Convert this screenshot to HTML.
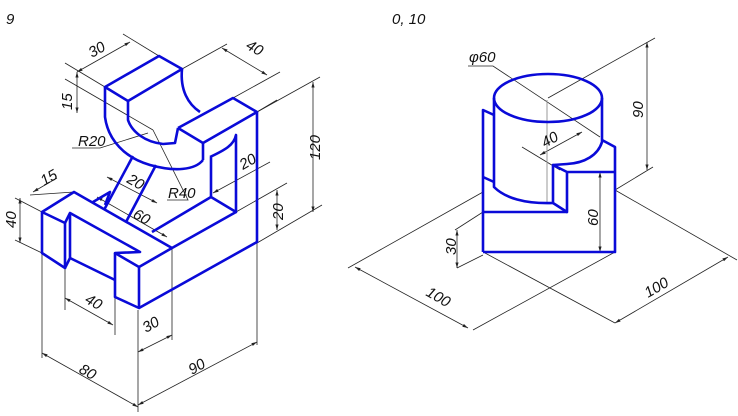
<!DOCTYPE html>
<html><head><style>body{margin:0;background:#fff}svg{display:block}text{font-family:"Liberation Sans",sans-serif;font-style:italic;font-size:15px;fill:#111}</style></head><body>
<svg width="738" height="416" viewBox="0 0 738 416">
<defs><marker id="a" markerWidth="8" markerHeight="6" refX="7" refY="3" orient="auto-start-reverse"><path d="M0,1 L7,3 L0,5z" fill="#222"/></marker></defs>
<text x="6" y="24" font-size="18">9</text>
<text x="392" y="24" font-size="18">0, 10</text>
<g stroke="#222" stroke-width="0.8" fill="none">
<line x1="65" y1="63" x2="105" y2="87"/><line x1="123" y1="34" x2="159" y2="56"/>
<line x1="77" y1="72" x2="130" y2="42" marker-start="url(#a)" marker-end="url(#a)"/>
<line x1="182" y1="69" x2="227" y2="44"/><line x1="257" y1="112" x2="277" y2="100"/><line x1="233" y1="98" x2="280" y2="72"/>
<line x1="222" y1="48" x2="267" y2="75" marker-start="url(#a)" marker-end="url(#a)"/>
<line x1="65" y1="79" x2="153" y2="130"/><line x1="77" y1="72" x2="77" y2="113" marker-start="url(#a)" marker-end="url(#a)"/>
<polyline points="72,148 100,148 148,133"/>
<polyline points="153,130 188,200 167,200"/>
<line x1="213" y1="193" x2="270" y2="162" marker-start="url(#a)"/>
<line x1="257" y1="112" x2="320" y2="77"/><line x1="257" y1="243" x2="322" y2="205"/>
<line x1="313" y1="82" x2="313" y2="212" marker-start="url(#a)" marker-end="url(#a)"/>
<line x1="236" y1="212" x2="287" y2="183"/><line x1="277" y1="190" x2="277" y2="230" marker-start="url(#a)" marker-end="url(#a)"/>
<line x1="33" y1="192" x2="57" y2="178" marker-start="url(#a)"/><line x1="30" y1="195" x2="74" y2="192"/>
<line x1="15" y1="198" x2="42" y2="212"/><line x1="15" y1="240" x2="42" y2="253"/>
<line x1="20" y1="198" x2="20" y2="243" marker-start="url(#a)" marker-end="url(#a)"/>
<line x1="107" y1="177" x2="157" y2="203" marker-start="url(#a)" marker-end="url(#a)"/>
<line x1="97" y1="197" x2="167" y2="237" marker-start="url(#a)" marker-end="url(#a)"/>
<line x1="65" y1="268" x2="65" y2="310"/><line x1="115" y1="297" x2="115" y2="335"/>
<line x1="65" y1="298" x2="113" y2="325" marker-start="url(#a)" marker-end="url(#a)"/>
<line x1="172" y1="248" x2="172" y2="340"/><line x1="138" y1="352" x2="172" y2="335" marker-start="url(#a)" marker-end="url(#a)"/>
<line x1="42" y1="253" x2="42" y2="358"/><line x1="138" y1="310" x2="138" y2="412"/><line x1="257" y1="242" x2="257" y2="345"/>
<line x1="42" y1="353" x2="138" y2="407" marker-start="url(#a)" marker-end="url(#a)"/>
<line x1="138" y1="405" x2="257" y2="342" marker-start="url(#a)" marker-end="url(#a)"/>
<polyline points="468,66 493,66 600,137"/>
<line x1="548" y1="98" x2="655" y2="38"/><line x1="615" y1="190" x2="653" y2="167"/>
<line x1="647" y1="42" x2="647" y2="170" marker-start="url(#a)" marker-end="url(#a)"/>
<line x1="522" y1="147" x2="560" y2="170"/>
<line x1="540" y1="155" x2="582" y2="132" marker-start="url(#a)" marker-end="url(#a)"/>
<line x1="600" y1="172" x2="600" y2="252" marker-start="url(#a)" marker-end="url(#a)"/>
<line x1="483" y1="212" x2="455" y2="230"/><line x1="483" y1="255" x2="457" y2="268"/>
<line x1="457" y1="230" x2="457" y2="268" marker-start="url(#a)" marker-end="url(#a)"/>
<line x1="483" y1="192" x2="348" y2="268"/><line x1="615" y1="252" x2="473" y2="330"/>
<line x1="355" y1="267" x2="468" y2="328" marker-start="url(#a)" marker-end="url(#a)"/>
<line x1="485" y1="253" x2="615" y2="323"/><line x1="615" y1="190" x2="737" y2="260"/>
<line x1="615" y1="323" x2="728" y2="257" marker-start="url(#a)" marker-end="url(#a)"/>
</g>
<line x1="547" y1="100" x2="547" y2="203" stroke="#999" stroke-width="1"/>
<g stroke="#0a0ad8" stroke-width="2.6" fill="none" stroke-linejoin="round">
<polygon points="105,87 159,56 182,69 128,101"/>
<path d="M105,87 L105,117 C108,140 125,158 150,165 C175,172 195,170 203,160"/>
<path d="M128,101 L128,120 C132,132 145,142 163,144 L175,143 L178,128"/>
<path d="M182,69 C180,90 188,104 200,112"/>
<polyline points="178,128 233,98 257,112 203,143 178,128"/>
<line x1="203" y1="143" x2="203" y2="160"/><line x1="257" y1="112" x2="257" y2="243"/>
<path d="M210,157 C225,150 234,145 236,135 L236,212 L211,197 L211,157"/>
<line x1="211" y1="197" x2="152" y2="232"/>
<line x1="236" y1="212" x2="172" y2="248"/>
<line x1="133" y1="156" x2="104" y2="210"/><line x1="156" y1="165" x2="126" y2="222"/>
<polyline points="93,202 110,192 105,205"/>
<polyline points="42,212 74,192 172,248"/>
<polygon points="42,212 65,223 65,268 42,253"/>
<polyline points="65,223 70,213 140,252 115,253 139,267 172,248"/>
<polyline points="65,268 70,258 70,213"/><line x1="70" y1="258" x2="115" y2="280"/>
<polyline points="115,253 115,297 139,308 139,267"/><line x1="139" y1="308" x2="257" y2="242"/>
<ellipse cx="548" cy="98" rx="54" ry="24"/>
<path d="M494,98 L494,187 C505,198 525,204 553,203"/>
<path d="M602,98 L602,142 C598,155 585,163 567,164 L553,165"/>
<polyline points="483,252 483,110 494,115"/><line x1="483" y1="177" x2="494" y2="182"/>
<polyline points="602,140 615,147 615,252 483,252"/>
<polyline points="615,172 567,172 553,165 553,203 567,212 567,172"/>
<line x1="483" y1="212" x2="567" y2="212"/>
</g>
<text transform="translate(92,58) rotate(-30)">30</text>
<text transform="translate(245,48) rotate(30)">40</text>
<text transform="translate(72,110) rotate(-90)">15</text>
<text x="78" y="146">R20</text>
<text x="168" y="198">R40</text>
<text transform="translate(243,170) rotate(-30)">20</text>
<text transform="translate(320,160) rotate(-90)">120</text>
<text transform="translate(283,220) rotate(-90)">20</text>
<text transform="translate(44,186) rotate(-30)">15</text>
<text transform="translate(16,228) rotate(-90)">40</text>
<text transform="translate(126,182) rotate(30)">20</text>
<text transform="translate(132,217) rotate(30)">60</text>
<text transform="translate(84,302) rotate(30)">40</text>
<text transform="translate(146,333) rotate(-30)">30</text>
<text transform="translate(78,372) rotate(30)">80</text>
<text transform="translate(192,375) rotate(-30)">90</text>
<text x="469" y="62">φ60</text>
<text transform="translate(643,118) rotate(-90)">90</text>
<text transform="translate(545,148) rotate(-30)">40</text>
<text transform="translate(598,226) rotate(-90)">60</text>
<text transform="translate(456,255) rotate(-90)">30</text>
<text transform="translate(425,295) rotate(30)">100</text>
<text transform="translate(648,298) rotate(-30)">100</text>
</svg>
</body></html>
